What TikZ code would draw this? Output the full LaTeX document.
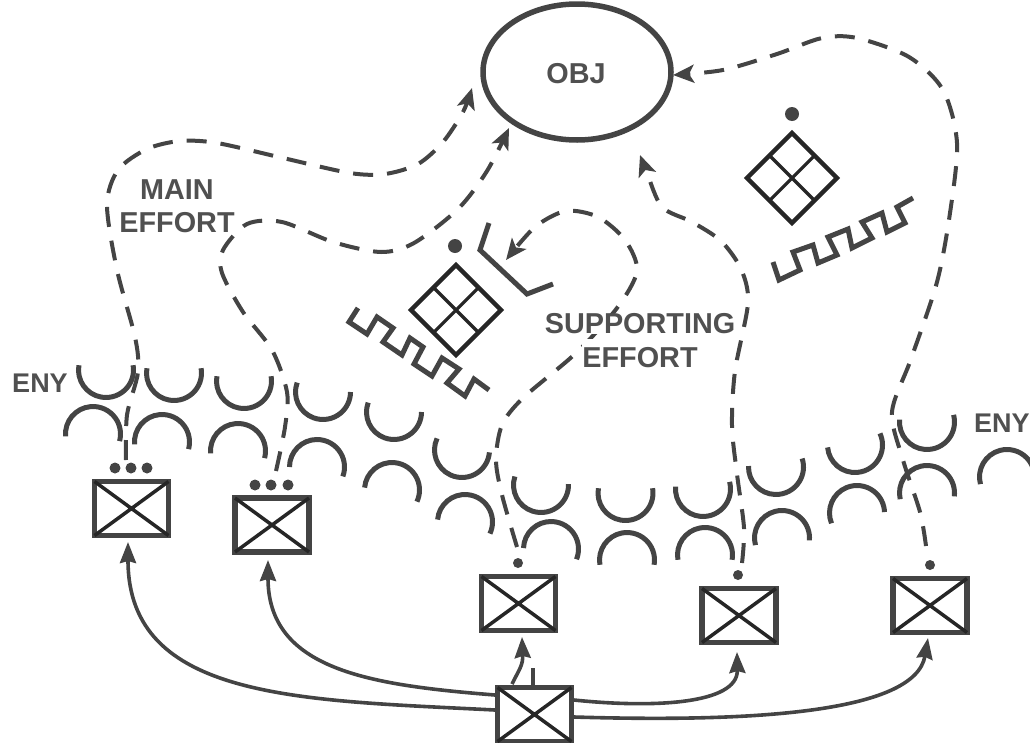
\documentclass[tikz,border=0pt]{standalone}
\usepackage{fontspec}
\setmainfont{Liberation Sans}
\usetikzlibrary{arrows.meta,shapes.geometric}
\definecolor{ink}{HTML}{444444}
\definecolor{txt}{HTML}{505050}
\definecolor{dk}{HTML}{262626}
\tikzset{
  unitbox/.style={draw=ink,line width=5.5pt,rectangle,inner sep=0pt,outer sep=0pt,minimum width=74pt,minimum height=54pt},
  cross/.style={draw=dk,line width=3.5pt},
  dotm/.style={circle,fill=ink,inner sep=0pt,minimum size=#1},
  dotm/.default=11pt,
  enemy/.style={draw=ink,line width=5pt},
  dashpath/.style={draw=ink,line width=4pt,dash pattern=on 20pt off 14pt,-{Stealth[length=21pt,width=18pt,inset=5pt]}},
  solidpath/.style={draw=ink,line width=3.6pt,-{Stealth[length=21pt,width=16pt,inset=2pt]}},
  lbl/.style={text=txt,font=\bfseries\fontsize{28.8}{33}\selectfont,align=center,inner sep=1pt},
  enylbl/.style={text=txt,font=\bfseries\fontsize{27}{32}\selectfont,inner sep=0pt},
  sym/.style={draw=dk,line width=4.5pt,line join=miter},
  wire/.style={draw=ink,line width=5pt,line join=miter}
}
\newcommand{\cupmark}[3]{\draw[enemy,shift={(#1,#2)},rotate=#3] (190:27.5pt) arc (190:-10:27.5pt);}
\newcommand{\capmark}[3]{\draw[enemy,shift={(#1,#2)},rotate=#3] (170:27.5pt) arc (170:370:27.5pt);}
\newcommand{\crossbox}[1]{\draw[cross] (#1.north west) -- (#1.south east) (#1.north east) -- (#1.south west);}
\begin{document}
\begin{tikzpicture}[x=1pt,y=1pt,yscale=-1]
\useasboundingbox (0,0) rectangle (1030,742);

% objective
\node[ellipse,draw=ink,line width=5.5pt,inner sep=0pt,outer sep=0pt,minimum width=188pt,minimum height=136pt] (obj) at (577,72) {};
\node[lbl] (objt) at (576,74) {OBJ};

% units
\node[unitbox] (b1) at (131.5,508.5) {};
\node[unitbox] (b2) at (272,525) {};
\node[unitbox] (b3) at (518.5,603.5) {};
\node[unitbox] (b4) at (739,615.5) {};
\node[unitbox] (b5) at (930,605.5) {};
\node[unitbox] (b6) at (534.5,714.5) {};
\crossbox{b1}\crossbox{b2}\crossbox{b3}\crossbox{b4}\crossbox{b5}\crossbox{b6}

% echelon dots
\node[dotm] (e1a) at (115,468) {};
\node[dotm] (e1b) at (131,468) {};
\node[dotm] (e1c) at (147,468) {};
\node[dotm] (e2a) at (255,485) {};
\node[dotm] (e2b) at (271,485) {};
\node[dotm] (e2c) at (288,485) {};
\node[dotm=10pt] (e3) at (518,563) {};
\node[dotm=10pt] (e4) at (738,575) {};
\node[dotm=10pt] (e5) at (930,565) {};
\node[dotm=14pt] (e6) at (455,246) {};
\node[dotm=14pt] (e7) at (792,114) {};

% enemy marks, upper row
\cupmark{106}{370}{0}
\cupmark{174}{373}{0}
\cupmark{244}{381}{0}
\cupmark{323}{392}{10}
\cupmark{394}{412}{10}
\cupmark{462}{450}{15}
\cupmark{541}{485}{8}
\cupmark{625.5}{493}{0}
\cupmark{703}{489}{-5}
\cupmark{776}{467}{-8}
\cupmark{855}{445}{-15}
\cupmark{927}{422}{-5}
% enemy marks, lower row
\capmark{93}{434}{5}
\capmark{162}{442}{5}
\capmark{238}{451}{5}
\capmark{317}{467}{10}
\capmark{392}{490}{15}
\capmark{465}{522}{15}
\capmark{551}{549}{12}
\capmark{627}{560}{0}
\capmark{705}{555}{0}
\capmark{782}{538}{-5}
\capmark{857}{513}{-12}
\capmark{927}{493}{-3}
\capmark{1007}{477}{-5}

% recon diamonds
\draw[sym] (411,310) -- (456,265) -- (501,310) -- (456,355) -- cycle;
\draw[draw=dk,line width=3.2pt] (433.5,287.5) -- (478.5,332.5) (478.5,287.5) -- (433.5,332.5);
\draw[sym] (747,178) -- (792,133) -- (837,178) -- (792,223) -- cycle;
\draw[draw=dk,line width=3.2pt] (769.5,155.5) -- (814.5,200.5) (814.5,155.5) -- (769.5,200.5);

% zigzags
\draw[wire] (358,308) -- (349,322) -- (367,334) -- (377,317) -- (393,328) -- (383,342) -- (402,355) -- (410,338) -- (423,347) -- (414,364) -- (432,376) -- (442,358) -- (459,369) -- (447,383) -- (465,396) -- (474,379) -- (489,390);
\draw[wire] (773,262) -- (779,280) -- (800,270) -- (793,252) -- (813,245) -- (818,263) -- (837,255) -- (828,237) -- (848,229) -- (852,248) -- (872,238) -- (862,222) -- (882,213) -- (887,232) -- (905,223) -- (897,207) -- (913,198);

% bracket
\draw[wire] (489,223) -- (480,250) -- (527,294) -- (553,284);

% connector ends
\coordinate (sa) at (126,460);
\coordinate (ta) at (472,88);
\coordinate (sb) at (276,471);
\coordinate (tb) at (509,128);
\coordinate (sc) at (517,547);
\coordinate (tc) at (506,260);
\coordinate (sd) at (742,563);
\coordinate (td) at (640,155);
\coordinate (se) at (926,546);
\coordinate (te) at (673,75);

% dashed axes of advance
\draw[dashpath] plot[smooth] coordinates {(sa) (127,415) (138,372) (135,337) (117,270) (107,205) (118,170) (147,149) (180,141) (217,143) (283,158) (350,173) (385,174) (418,164) (443,142) (463,112) (ta)};
\draw[dashpath] plot[smooth] coordinates {(sb) (285,427) (287,392) (272,350) (243,312) (222,273) (223,250) (247,224) (282,222) (333,242) (381,252) (414,243) (458,209) (487,171) (tb)};
\draw[dashpath] plot[smooth] coordinates {(sc) (502,495) (496,460) (502,425) (523,398) (576,353) (617,308) (637,271) (625,240) (598,217) (566,211) (535,227) (tc)};
\draw[dashpath] plot[smooth] coordinates {(sd) (744,528) (737,474) (732,426) (735,371) (748,303) (741,269) (721,241) (692,222) (662,207) (647,173) (td)};
\draw[dashpath] plot[smooth] coordinates {(se) (920,512) (903,460) (892,412) (911,359) (937,282) (950,213) (957,143) (943,90) (909,57) (857,38) (822,38) (777,54) (723,70) (te)};

% solid arrows from the reserve
\coordinate (p1) at (495,710);
\coordinate (q1) at (128,542);
\coordinate (p2) at (495,695);
\coordinate (q2) at (268,560);
\coordinate (p3) at (512,684);
\coordinate (q3) at (522,637);
\coordinate (p4) at (574,700);
\coordinate (q4) at (737,652);
\coordinate (p5) at (574,717);
\coordinate (q5) at (928,638);
\coordinate (st) at (533,668);
\draw[solidpath] (p1) .. controls (300,700) and (128,700) .. (q1);
\draw[solidpath] (p2) .. controls (370,685) and (268,670) .. (q2);
\draw[solidpath] (p3) .. controls (520,668) and (523,665) .. (q3);
\draw[solidpath] (p4) .. controls (650,708) and (738,705) .. (q4);
\draw[solidpath] (p5) .. controls (740,722) and (915,715) .. (q5);
\draw[draw=ink,line width=4.5pt] (st) -- (st |- b6.north);

% labels
\node[lbl] (main) at (177,206) {MAIN\\EFFORT};
\node[lbl,fill=white,inner xsep=0pt,inner ysep=9pt] (supe) at (640,358) {EFFORT};
\node[lbl,fill=white,inner sep=0pt] (supp) at (640,324) {SUPPORTING};
\node[enylbl] (eny1) at (40,383) {ENY};
\node[enylbl,anchor=west] (eny2) at (974,423) {ENY};
\end{tikzpicture}
\end{document}
